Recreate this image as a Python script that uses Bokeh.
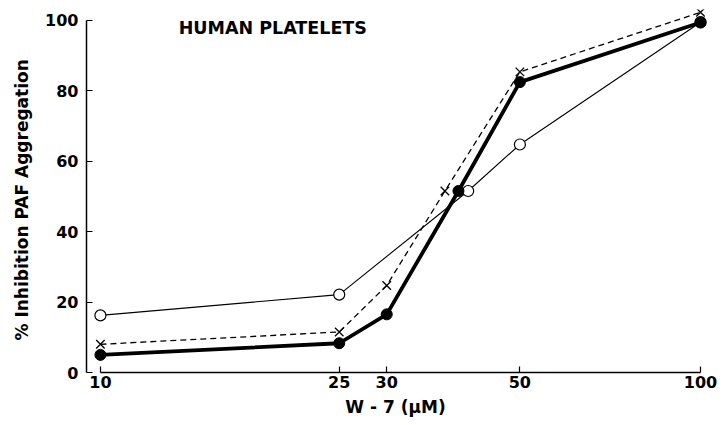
from bokeh.plotting import figure
from bokeh.models import Range1d, FixedTicker, Label
from bokeh.embed import file_html
from bokeh.resources import INLINE

# data
x_ticks = [10, 25, 30, 50, 100]
y_ticks = [0, 20, 40, 60, 80, 100]

filled_x = [10, 25, 30, 39.5, 50, 100]
filled_y = [5, 8.3, 16.5, 51.5, 82.4, 99.3]

cross_x = [10, 25, 30, 37.5, 50, 100]
cross_y = [8, 11.5, 24.7, 51.5, 85.3, 102.2]

open_x = [10, 25, 41, 50, 100]
open_y = [16.2, 22.1, 51.5, 64.7, 99.4]

FONT = "DejaVu Sans"

p = figure(width=724, height=425, x_axis_type="log",
           x_range=Range1d(9.48, 103.9), y_range=Range1d(0, 103),
           output_backend="svg", toolbar_location=None,
           min_border_left=86, min_border_right=14, min_border_top=9, min_border_bottom=53)
p.outline_line_color = None
p.grid.visible = False
p.background_fill_color = "white"
p.border_fill_color = "white"

# thin line, open circles
p.line(open_x, open_y, line_color="black", line_width=1.1)
# dashed, crosses
p.line(cross_x, cross_y, line_color="black", line_width=1.3, line_dash="6 4")
# thick, filled
p.line(filled_x, filled_y, line_color="black", line_width=3.8)

p.scatter(open_x, open_y, marker="circle", size=11, fill_color="white",
          line_color="black", line_width=1.2)
p.scatter(cross_x, cross_y, marker="x", size=12, line_color="black", line_width=1.3)
p.scatter(filled_x, filled_y, marker="circle", size=11, fill_color="black",
          line_color="black")

for ax in (p.xaxis[0], p.yaxis[0]):
    ax.major_tick_in = 6
    ax.major_tick_out = 0
    ax.minor_tick_in = 0
    ax.minor_tick_out = 0
    ax.axis_line_width = 1.5
    ax.major_tick_line_width = 1.2
    ax.major_label_text_font = FONT
    ax.major_label_text_font_style = "bold"
    ax.major_label_text_font_size = "16px"
    ax.major_label_text_color = "black"
    ax.axis_label_text_font = FONT
    ax.axis_label_text_font_style = "bold"
    ax.axis_label_text_font_size = "17px"
    ax.axis_label_text_color = "black"

p.xaxis.ticker = FixedTicker(ticks=x_ticks)
p.xaxis.major_label_overrides = {t: str(t) for t in x_ticks}
p.xaxis.bounds = (10, 100)
p.xaxis.major_label_standoff = 3
p.xaxis.axis_label = "W - 7  (\u03bcM)"
p.xaxis.axis_label_standoff = 6

p.yaxis.ticker = FixedTicker(ticks=y_ticks)
p.yaxis.bounds = (0, 100)
p.yaxis.major_label_standoff = 8
p.yaxis.axis_label = "%  Inhibition  PAF  Aggregation"
p.yaxis.axis_label_standoff = 10

title = Label(x=13.5, y=97.7, text="HUMAN  PLATELETS", text_font=FONT,
              text_font_style="bold", text_font_size="17.5px", text_color="black",
              text_baseline="middle", text_align="left")
p.add_layout(title)

open("out.html", "w").write(file_html(p, INLINE))
